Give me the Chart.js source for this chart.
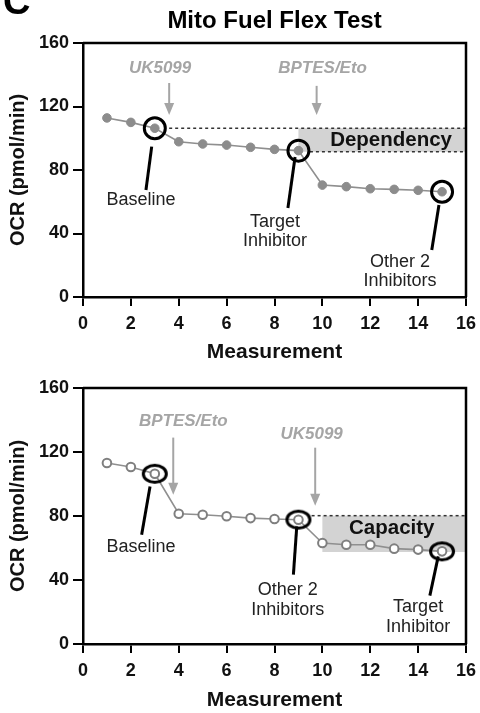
<!DOCTYPE html>
<html><head><meta charset="utf-8">
<script src="https://cdn.jsdelivr.net/npm/chart.js@4"></script>
<style>
html,body{margin:0;padding:0;background:#fff;width:480px;height:713px;overflow:hidden;}
canvas{display:block;position:absolute;left:0;}
</style>
</head><body>
<canvas id="c1" width="480" height="365" style="top:0px"></canvas>
<canvas id="c2" width="480" height="348" style="top:365px"></canvas>
<script>
// ---- data ----
const measurements = [1,2,3,4,5,6,7,8,9,10,11,12,13,14,15];
const dependencyOCR = [112.8,110.0,106.3,97.8,96.4,95.7,94.3,93.0,92.2,70.5,69.5,68.2,67.8,67.2,66.3];
const capacityOCR   = [113.1,110.6,106.4,81.4,80.8,79.8,78.7,78.1,77.7,63.1,62.0,62.0,59.6,59.0,57.9];
const xTickValues = [0,2,4,6,8,10,12,14,16];
const yTickValues = [0,40,80,120,160];
const highlightedMeasurements = [3,9,15];
const chartTitle = 'Mito Fuel Flex Test';
const xTitle = 'Measurement';
const yTitle = 'OCR (pmol/min)';

const FONT = "'Liberation Sans', Arial, Helvetica, sans-serif";
const GRAY_TXT = '#a5a5a5';

// annotation layout (in data units)
const topAnno = {
  box: {x1: 9, x2: 16, y1: 91.5, y2: 106.3, label: 'Dependency', lx: 12.87, ly: 98.9},
  dashes: [{x1: 3.6, x2: 16, y: 106.3}, {x1: 9.48, x2: 16, y: 91.5}],
  arrows: [{x: 3.6, y1: 134.8, y2: 114.6, label: 'UK5099', lx: 3.22, ly: 144.3},
           {x: 9.76, y1: 133, y2: 114.6, label: 'BPTES/Eto', lx: 10.01, ly: 144.3}],
  leaders: [{x1: 2.87, y1: 94.7, x2: 2.63, y2: 67.4, lines: ['Baseline'], lx: 2.42, ly: 61.1},
            {x1: 8.86, y1: 88.2, x2: 8.56, y2: 56.1, lines: ['Target','Inhibitor'], lx: 8.02, ly: 47.4},
            {x1: 14.87, y1: 58, x2: 14.57, y2: 29.6, lines: ['Other 2','Inhibitors'], lx: 13.24, ly: 22.2}],
  title: true
};
const botAnno = {
  box: {x1: 10, x2: 16, y1: 57.5, y2: 80.2, label: 'Capacity', lx: 12.9, ly: 72.5},
  dashes: [{x1: 9.55, x2: 16, y: 80.2}],
  arrows: [{x: 3.77, y1: 129, y2: 93.3, label: 'BPTES/Eto', lx: 4.19, ly: 139.1},
           {x: 9.7, y1: 122.7, y2: 86.4, label: 'UK5099', lx: 9.55, ly: 130.8}],
  leaders: [{x1: 2.8, y1: 98.5, x2: 2.45, y2: 68.3, lines: ['Baseline'], lx: 2.42, ly: 60.6},
            {x1: 8.93, y1: 73.5, x2: 8.79, y2: 43.3, lines: ['Other 2','Inhibitors'], lx: 8.55, ly: 33.5},
            {x1: 14.84, y1: 54.75, x2: 14.49, y2: 30.2, lines: ['Target','Inhibitor'], lx: 14.0, ly: 23.1}],
  title: false
};

function ellipseStyle(rx, ry, lw) {
  const c = document.createElement('canvas');
  const w = Math.ceil(2*rx + lw + 2), h = Math.ceil(2*ry + lw + 2);
  c.width = w; c.height = h;
  const g = c.getContext('2d');
  g.strokeStyle = '#000'; g.lineWidth = lw;
  g.beginPath(); g.ellipse(w/2, h/2, rx, ry, 0, 0, Math.PI*2); g.stroke();
  return c;
}

const annoPlugin = {
  id: 'anno',
  beforeDatasetsDraw(chart, args, opts) {
    const a = opts.spec, ctx = chart.ctx;
    const xs = chart.scales.x, ys = chart.scales.y;
    const X = v => xs.getPixelForValue(v), Y = v => ys.getPixelForValue(v);
    ctx.save();
    ctx.fillStyle = '#d3d3d3';
    ctx.fillRect(X(a.box.x1), Y(a.box.y2), X(a.box.x2) - X(a.box.x1), Y(a.box.y1) - Y(a.box.y2));
    ctx.strokeStyle = '#333'; ctx.lineWidth = 1.5; ctx.setLineDash([3, 3]);
    a.dashes.forEach(d => { ctx.beginPath(); ctx.moveTo(X(d.x1), Y(d.y)); ctx.lineTo(X(d.x2), Y(d.y)); ctx.stroke(); });
    ctx.setLineDash([]);
    ctx.fillStyle = '#111'; ctx.font = 'bold 20.5px ' + FONT; ctx.textAlign = 'center'; ctx.textBaseline = 'middle';
    ctx.fillText(a.box.label, X(a.box.lx), Y(a.box.ly));
    ctx.restore();
  },
  afterDatasetsDraw(chart, args, opts) {
    const a = opts.spec, ctx = chart.ctx;
    const xs = chart.scales.x, ys = chart.scales.y;
    const X = v => xs.getPixelForValue(v), Y = v => ys.getPixelForValue(v);
    ctx.save();
    a.arrows.forEach(r => {
      const x = X(r.x), y1 = Y(r.y1), y2 = Y(r.y2);
      ctx.strokeStyle = GRAY_TXT; ctx.fillStyle = GRAY_TXT; ctx.lineWidth = 2;
      ctx.beginPath(); ctx.moveTo(x, y1); ctx.lineTo(x, y2 - 10); ctx.stroke();
      ctx.beginPath(); ctx.moveTo(x - 5, y2 - 12); ctx.lineTo(x + 5, y2 - 12); ctx.lineTo(x, y2); ctx.closePath(); ctx.fill();
      ctx.font = 'italic bold 17px ' + FONT; ctx.textAlign = 'center'; ctx.textBaseline = 'middle';
      ctx.fillText(r.label, X(r.lx), Y(r.ly));
    });
    a.leaders.forEach(l => {
      ctx.strokeStyle = '#000'; ctx.lineWidth = 3; ctx.lineCap = 'butt';
      ctx.beginPath(); ctx.moveTo(X(l.x1), Y(l.y1)); ctx.lineTo(X(l.x2), Y(l.y2)); ctx.stroke();
      ctx.fillStyle = '#222'; ctx.font = '18px ' + FONT; ctx.textAlign = 'center'; ctx.textBaseline = 'middle';
      l.lines.forEach((t, i) => ctx.fillText(t, X(l.lx), Y(l.ly) + i * 19.5));
    });
    ctx.restore();
  },
  afterDraw(chart, args, opts) {
    const a = opts.spec, ctx = chart.ctx, ca = chart.chartArea;
    ctx.save();
    ctx.strokeStyle = '#000'; ctx.lineWidth = 2.5;
    ctx.beginPath(); ctx.moveTo(ca.left, ca.top); ctx.lineTo(ca.right, ca.top); ctx.lineTo(ca.right, ca.bottom); ctx.stroke();
    if (a.title) {
      ctx.fillStyle = '#000'; ctx.textAlign = 'center'; ctx.textBaseline = 'middle';
      ctx.font = 'bold 24px ' + FONT;
      ctx.fillText(chartTitle, (ca.left + ca.right) / 2, 21);
      ctx.textAlign = 'left'; ctx.textBaseline = 'alphabetic';
      ctx.font = 'bold 38px ' + FONT;
      ctx.fillText('C', 3, 14);
    }
    ctx.restore();
  }
};

function makeChart(id, values, spec, padTop, xHeight, ringStyle, openPoints) {
  const pts = measurements.map((m, i) => ({x: m, y: values[i]}));
  const rings = highlightedMeasurements.map(m => ({x: m, y: values[measurements.indexOf(m)]}));
  return new Chart(document.getElementById(id), {
    type: 'scatter',
    data: {datasets: [
      {data: rings, showLine: false, pointStyle: ringStyle, pointRadius: 10.5, pointBorderWidth: 3,
       pointBorderColor: '#000', pointBackgroundColor: 'rgba(0,0,0,0)', pointHoverRadius: 10.5},
      {data: pts, showLine: true, borderColor: '#8f8f8f', borderWidth: 1.6,
       pointRadius: 4.3, pointHoverRadius: 4.3,
       pointBackgroundColor: openPoints ? '#fff' : '#8c8c8c',
       pointBorderColor: openPoints ? '#7f7f7f' : '#8c8c8c',
       pointBorderWidth: openPoints ? 2 : 1}
    ]},
    options: {
      responsive: false, animation: false, devicePixelRatio: 1,
      layout: {padding: {left: 0, right: 14, top: padTop, bottom: 0}},
      plugins: {legend: {display: false}, tooltip: {enabled: false}, anno: {spec: spec}},
      scales: {
        x: {type: 'linear', min: 0, max: 16,
            afterBuildTicks: s => { s.ticks = xTickValues.map(v => ({value: v})); },
            afterFit: s => { s.height = xHeight; s.paddingRight = 0; s.paddingLeft = 0; },
            grid: {display: true, drawOnChartArea: false, drawTicks: true, tickLength: 9, color: '#000', lineWidth: 2},
            border: {display: true, color: '#000', width: 2.5},
            ticks: {color: '#111', font: {family: FONT, size: 18, weight: 'bold'}, padding: 7, maxRotation: 0, autoSkip: false},
            title: {display: true, text: xTitle, color: '#111', font: {family: FONT, size: 21, weight: 'bold'}, padding: {top: 0, bottom: 0}}},
        y: {type: 'linear', min: 0, max: 160,
            afterBuildTicks: s => { s.ticks = yTickValues.map(v => ({value: v})); },
            afterFit: s => { s.width = 83; s.paddingTop = 0; s.paddingBottom = 0; },
            grid: {display: true, drawOnChartArea: false, drawTicks: true, tickLength: 10, color: '#000', lineWidth: 2},
            border: {display: true, color: '#000', width: 2.5},
            ticks: {color: '#111', font: {family: FONT, size: 18, weight: 'bold'}, padding: 4},
            title: {display: true, text: yTitle, color: '#111', font: {family: FONT, size: 20, weight: 'bold'}, padding: {top: 6, bottom: 0}}}
      }
    },
    plugins: [annoPlugin]
  });
}

makeChart('c1', dependencyOCR, topAnno, 43, 68, 'circle', false);
makeChart('c2', capacityOCR, botAnno, 23, 69, ellipseStyle(11.5, 8.5, 3), true);
</script>
</body></html>
